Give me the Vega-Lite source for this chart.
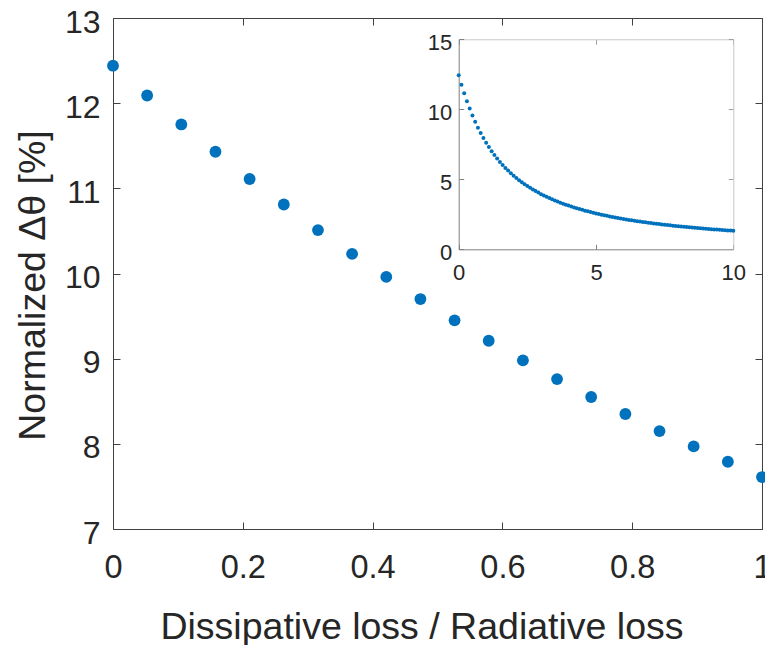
{
  "$schema": "https://vega.github.io/schema/vega-lite/v6.json",
  "width": 649,
  "height": 511,
  "autosize": "none",
  "padding": {"left": 113, "top": 18, "right": 3, "bottom": 116},
  "background": "white",
  "config": {
    "view": {"stroke": null},
    "axis": {
      "labelFont": "Liberation Sans",
      "titleFont": "Liberation Sans",
      "labelColor": "#262626",
      "titleColor": "#262626",
      "domainColor": "#404040",
      "tickColor": "#404040",
      "titleFontWeight": "normal",
      "grid": false,
      "domainWidth": 1,
      "tickWidth": 1,
      "labelFlush": false,
      "labelOverlap": false
    }
  },
  "datasets": {
    "main": [
      {"r": 0, "v": 12.44}, {"r": 0.0526, "v": 12.09}, {"r": 0.1053, "v": 11.75}, {"r": 0.1579, "v": 11.43},
      {"r": 0.2105, "v": 11.11}, {"r": 0.2632, "v": 10.81}, {"r": 0.3158, "v": 10.51}, {"r": 0.3684, "v": 10.23},
      {"r": 0.4211, "v": 9.96}, {"r": 0.4737, "v": 9.70}, {"r": 0.5263, "v": 9.45}, {"r": 0.5789, "v": 9.21},
      {"r": 0.6316, "v": 8.98}, {"r": 0.6842, "v": 8.76}, {"r": 0.7368, "v": 8.55}, {"r": 0.7895, "v": 8.35},
      {"r": 0.8421, "v": 8.15}, {"r": 0.8947, "v": 7.97}, {"r": 0.9474, "v": 7.79}, {"r": 1, "v": 7.61}
    ],
    "inset": [
      {"r": 0, "v": 12.44}, {"r": 0.1, "v": 11.76}, {"r": 0.2, "v": 11.14}, {"r": 0.3, "v": 10.57}, {"r": 0.4, "v": 10.05},
      {"r": 0.5, "v": 9.56}, {"r": 0.6, "v": 9.11}, {"r": 0.7, "v": 8.69}, {"r": 0.8, "v": 8.31}, {"r": 0.9, "v": 7.95},
      {"r": 1.0, "v": 7.61}, {"r": 1.1, "v": 7.30}, {"r": 1.2, "v": 7.00}, {"r": 1.3, "v": 6.73}, {"r": 1.4, "v": 6.48},
      {"r": 1.5, "v": 6.24}, {"r": 1.6, "v": 6.02}, {"r": 1.7, "v": 5.81}, {"r": 1.8, "v": 5.62}, {"r": 1.9, "v": 5.43},
      {"r": 2.0, "v": 5.26}, {"r": 2.1, "v": 5.10}, {"r": 2.2, "v": 4.94}, {"r": 2.3, "v": 4.79}, {"r": 2.4, "v": 4.65},
      {"r": 2.5, "v": 4.52}, {"r": 2.6, "v": 4.39}, {"r": 2.7, "v": 4.27}, {"r": 2.8, "v": 4.16}, {"r": 2.9, "v": 4.05},
      {"r": 3.0, "v": 3.94}, {"r": 3.1, "v": 3.84}, {"r": 3.2, "v": 3.75}, {"r": 3.3, "v": 3.66}, {"r": 3.4, "v": 3.57},
      {"r": 3.5, "v": 3.49}, {"r": 3.6, "v": 3.41}, {"r": 3.7, "v": 3.33}, {"r": 3.8, "v": 3.26}, {"r": 3.9, "v": 3.19},
      {"r": 4.0, "v": 3.12}, {"r": 4.1, "v": 3.05}, {"r": 4.2, "v": 2.99}, {"r": 4.3, "v": 2.93}, {"r": 4.4, "v": 2.87},
      {"r": 4.5, "v": 2.82}, {"r": 4.6, "v": 2.76}, {"r": 4.7, "v": 2.71}, {"r": 4.8, "v": 2.66}, {"r": 4.9, "v": 2.61},
      {"r": 5.0, "v": 2.56}, {"r": 5.1, "v": 2.52}, {"r": 5.2, "v": 2.47}, {"r": 5.3, "v": 2.43}, {"r": 5.4, "v": 2.39},
      {"r": 5.5, "v": 2.35}, {"r": 5.6, "v": 2.31}, {"r": 5.7, "v": 2.27}, {"r": 5.8, "v": 2.24}, {"r": 5.9, "v": 2.20},
      {"r": 6.0, "v": 2.17}, {"r": 6.1, "v": 2.13}, {"r": 6.2, "v": 2.10}, {"r": 6.3, "v": 2.07}, {"r": 6.4, "v": 2.04},
      {"r": 6.5, "v": 2.01}, {"r": 6.6, "v": 1.98}, {"r": 6.7, "v": 1.95}, {"r": 6.8, "v": 1.93}, {"r": 6.9, "v": 1.90},
      {"r": 7.0, "v": 1.87}, {"r": 7.1, "v": 1.85}, {"r": 7.2, "v": 1.82}, {"r": 7.3, "v": 1.80}, {"r": 7.4, "v": 1.78},
      {"r": 7.5, "v": 1.75}, {"r": 7.6, "v": 1.73}, {"r": 7.7, "v": 1.71}, {"r": 7.8, "v": 1.69}, {"r": 7.9, "v": 1.67},
      {"r": 8.0, "v": 1.65}, {"r": 8.1, "v": 1.63}, {"r": 8.2, "v": 1.61}, {"r": 8.3, "v": 1.59}, {"r": 8.4, "v": 1.57},
      {"r": 8.5, "v": 1.55}, {"r": 8.6, "v": 1.54}, {"r": 8.7, "v": 1.52}, {"r": 8.8, "v": 1.50}, {"r": 8.9, "v": 1.49},
      {"r": 9.0, "v": 1.47}, {"r": 9.1, "v": 1.45}, {"r": 9.2, "v": 1.44}, {"r": 9.3, "v": 1.42}, {"r": 9.4, "v": 1.41},
      {"r": 9.5, "v": 1.39}, {"r": 9.6, "v": 1.38}, {"r": 9.7, "v": 1.36}, {"r": 9.8, "v": 1.35}, {"r": 9.9, "v": 1.34},
      {"r": 10.0, "v": 1.32}
    ]
  },
  "layer": [
    {
      "data": {"name": "main"},
      "layer": [
        {
          "mark": {"type": "point", "filled": true, "size": 140, "color": "#0072BD", "opacity": 1},
          "encoding": {
            "x": {
              "field": "r", "type": "quantitative",
              "scale": {"domain": [0, 1]},
              "axis": {
                "orient": "bottom", "values": [0, 0.2, 0.4, 0.6, 0.8, 1], "format": ".1~f",
                "title": "Dissipative loss / Radiative loss",
                "tickSize": -7, "labelPadding": 55, "labelBaseline": "alphabetic", "labelFontSize": 32.5,
                "titleFontSize": 37.5, "titleBaseline": "alphabetic", "titleY": 109.5, "titleX": 308.5
              }
            },
            "y": {
              "field": "v", "type": "quantitative",
              "scale": {"domain": [7, 13], "zero": false},
              "axis": {
                "orient": "left", "values": [7, 8, 9, 10, 11, 12, 13],
                "title": "Normalized Δθ [%]",
                "tickSize": -7, "labelPadding": 20, "labelOffset": 4, "labelFontSize": 32,
                "titleFontSize": 37.5, "titleAngle": -90, "titleBaseline": "alphabetic", "titleX": -69, "titleY": 267
              }
            }
          }
        },
        {
          "mark": {"type": "point", "opacity": 0},
          "encoding": {
            "x": {
              "field": "r", "type": "quantitative",
              "scale": {"domain": [0, 1]},
              "axis": {"orient": "top", "values": [0, 0.2, 0.4, 0.6, 0.8, 1], "labels": false, "title": null, "tickSize": -7}
            },
            "y": {
              "field": "v", "type": "quantitative",
              "scale": {"domain": [7, 13], "zero": false},
              "axis": {"orient": "right", "values": [7, 8, 9, 10, 11, 12, 13], "labels": false, "title": null, "tickSize": -7}
            }
          }
        }
      ],
      "resolve": {"axis": {"x": "independent", "y": "independent"}}
    },
    {
      "data": {"name": "inset"},
      "layer": [
        {
          "mark": {"type": "point", "filled": true, "size": 16, "color": "#0072BD", "opacity": 1},
          "encoding": {
            "x": {
              "field": "r", "type": "quantitative",
              "scale": {"domain": [0, 10], "range": [345.7, 620.3]},
              "axis": {
                "orient": "bottom", "offset": -279.7, "values": [0, 5, 10], "title": null,
                "tickSize": -5, "labelPadding": 35, "labelBaseline": "alphabetic", "labelFontSize": 22,
                "domainColor": "#808080", "tickColor": "#808080"
              }
            },
            "y": {
              "field": "v", "type": "quantitative",
              "scale": {"domain": [0, 15], "range": [231.3, 21.3]},
              "axis": {
                "orient": "left", "offset": -345.7, "values": [0, 5, 10, 15], "title": null,
                "tickSize": -5, "labelPadding": 12, "labelOffset": 3, "labelFontSize": 22,
                "domainColor": "#808080", "tickColor": "#808080"
              }
            }
          }
        },
        {
          "mark": {"type": "point", "opacity": 0},
          "encoding": {
            "x": {
              "field": "r", "type": "quantitative",
              "scale": {"domain": [0, 10], "range": [345.7, 620.3]},
              "axis": {"orient": "top", "offset": -21.3, "values": [0, 5, 10], "labels": false, "title": null, "tickSize": -5, "domainColor": "#c8c8c8", "tickColor": "#a0a0a0"}
            },
            "y": {
              "field": "v", "type": "quantitative",
              "scale": {"domain": [0, 15], "range": [231.3, 21.3]},
              "axis": {"orient": "right", "offset": -28.7, "values": [0, 5, 10, 15], "labels": false, "title": null, "tickSize": -5, "domainColor": "#c8c8c8", "tickColor": "#a0a0a0"}
            }
          }
        }
      ],
      "resolve": {"axis": {"x": "independent", "y": "independent"}}
    }
  ],
  "resolve": {"scale": {"x": "independent", "y": "independent"}}
}
